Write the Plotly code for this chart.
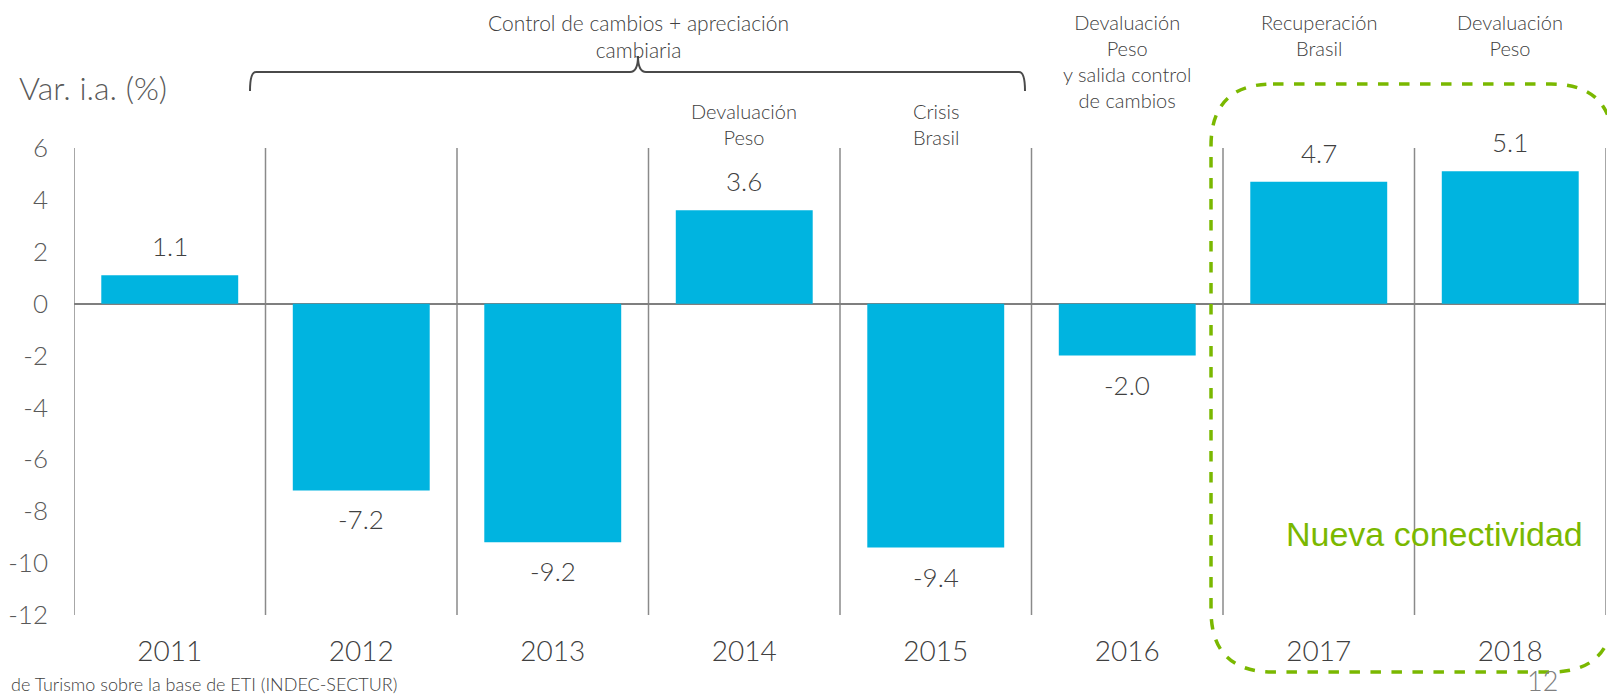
import plotly.graph_objects as go

years = ["2011", "2012", "2013", "2014", "2015", "2016", "2017", "2018"]
variation = [1.1, -7.2, -9.2, 3.6, -9.4, -2.0, 4.7, 5.1]
events = {
    "2014": "Devaluación<br>Peso",
    "2015": "Crisis<br>Brasil",
    "2016": "Devaluación<br>Peso<br>y salida control<br>de cambios",
    "2017": "Recuperación<br>Brasil",
    "2018": "Devaluación<br>Peso",
}
y_ticks = [6, 4, 2, 0, -2, -4, -6, -8, -10, -12]

# page is 1615x700; the figure div sits 8px in from the top-left (body margin)
PAGE_W, PAGE_H, OFF = 1615, 700, 8
W, H = PAGE_W - OFF, PAGE_H - OFF
# plot area in page pixels
L, R, T, B = 74, 1606, 148, 615

BAR = "#00B4E0"
GREEN = "#7AB800"
TXT = "#404040"
GRID = "#8a8a8a"
FONT = "Lato"


def px(x):
    return (x - L) / (R - L)


def py(y):
    return (B - y) / (B - T)


def path(cmds):
    # cmds: list of (letter, [x, y, x, y...]) in page pixels -> paper path
    out = []
    for c, pts in cmds:
        if c == "Z":
            out.append("Z")
            continue
        coords = []
        for i in range(0, len(pts), 2):
            coords.append(f"{px(pts[i]):.5f},{py(pts[i + 1]):.5f}")
        out.append(c + " " + " ".join(coords))
    return " ".join(out)


fig = go.Figure()

fig.add_trace(go.Bar(
    x=years, y=variation,
    marker=dict(color=BAR, line=dict(width=0)),
    width=0.715,
    hoverinfo="skip",
))

# value labels (category axis -> use index positions)
for i, v in enumerate(variation):
    fig.add_annotation(
        x=i, y=v, text=f"{v:.1f}", showarrow=False,
        yshift=29 if v > 0 else -29,
        font=dict(family=FONT, size=26, color=TXT, weight=300),
    )

shapes = []
# category separators
for i in range(len(years) + 1):
    shapes.append(dict(
        type="line", xref="x", yref="y", x0=i - 0.5, x1=i - 0.5, y0=-12, y1=6,
        line=dict(color=GRID, width=1.5), layer="below",
    ))

# brace over 2012-2015
brace = path([
    ("M", [250, 91]), ("Q", [250, 72, 256, 72]), ("L", [630, 72]),
    ("Q", [638, 72, 638, 56]), ("Q", [638, 72, 646, 72]), ("L", [1019, 72]),
    ("Q", [1025, 72, 1025, 91]),
])
shapes.append(dict(type="path", xref="paper", yref="paper", path=brace,
                   line=dict(color="#4a4a4a", width=2)))

# dashed rounded box
l, r, t, b, rad = 1211, 1613, 84, 672, 62
box = path([
    ("M", [l + rad, t]), ("L", [r - rad, t]), ("Q", [r, t, r, t + rad]),
    ("L", [r, b - rad]), ("Q", [r, b, r - rad, b]), ("L", [l + rad, b]),
    ("Q", [l, b, l, b - rad]), ("L", [l, t + rad]), ("Q", [l, t, l + rad, t]), ("Z", []),
])
shapes.append(dict(type="path", xref="paper", yref="paper", path=box,
                   line=dict(color=GREEN, width=3.5, dash="dash")))

fig.update_layout(shapes=shapes)

# event notes above categories
for yr, txt in events.items():
    top_px = 8 if yr in ("2016", "2017", "2018") else 97
    fig.add_annotation(
        x=years.index(yr), xref="x", y=py(top_px), yref="paper", yanchor="top",
        text=txt, showarrow=False, align="center",
        font=dict(family=FONT, size=20, color=TXT, weight=300),
    )

fig.add_annotation(
    x=px(638), xref="paper", y=py(8), yref="paper", yanchor="top",
    text="Control de cambios + apreciación<br>cambiaria", showarrow=False, align="center",
    font=dict(family=FONT, size=21, color=TXT, weight=300),
)

fig.add_annotation(
    x=px(17), xref="paper", xanchor="left", y=py(88), yref="paper", yanchor="middle",
    text="Var. i.a. (%)", showarrow=False,
    font=dict(family=FONT, size=32, color="#595959", weight=300),
)

fig.add_annotation(
    x=px(1434), xref="paper", xanchor="center", y=py(534), yref="paper", yanchor="middle",
    text="Nueva conectividad", showarrow=False,
    font=dict(family="Liberation Sans, Arial", size=34, color=GREEN),
)

fig.add_annotation(
    x=px(9), xref="paper", xanchor="left", y=py(684), yref="paper", yanchor="middle",
    text="de Turismo sobre la base de ETI (INDEC-SECTUR)", showarrow=False,
    font=dict(family=FONT, size=18, color=TXT, weight=300),
)

fig.add_annotation(
    x=px(1542), xref="paper", xanchor="center", y=py(680), yref="paper", yanchor="middle",
    text="12", showarrow=False,
    font=dict(family=FONT, size=27, color="#7f7f7f", weight=300),
)

fig.update_layout(
    width=W, height=H,
    margin=dict(l=L - OFF, r=PAGE_W - R, t=T - OFF, b=PAGE_H - B, pad=0),
    paper_bgcolor="white", plot_bgcolor="white",
    showlegend=False,
    xaxis=dict(
        type="category", range=[-0.5, 7.5], showgrid=False, showline=False,
        zeroline=False, ticks="", ticklabelstandoff=17, automargin=False,
        tickfont=dict(family=FONT, size=28, color=TXT, weight=300),
        fixedrange=True,
    ),
    yaxis=dict(
        range=[-12, 6], tickvals=y_ticks, ticktext=[str(v) for v in y_ticks],
        showgrid=False, showline=False, zeroline=True, zerolinecolor="#7f7f7f",
        zerolinewidth=2, ticks="", ticklabelstandoff=25, automargin=False,
        tickfont=dict(family=FONT, size=26, color="#595959", weight=300),
        fixedrange=True,
    ),
)

fig.write_html("out.html")
